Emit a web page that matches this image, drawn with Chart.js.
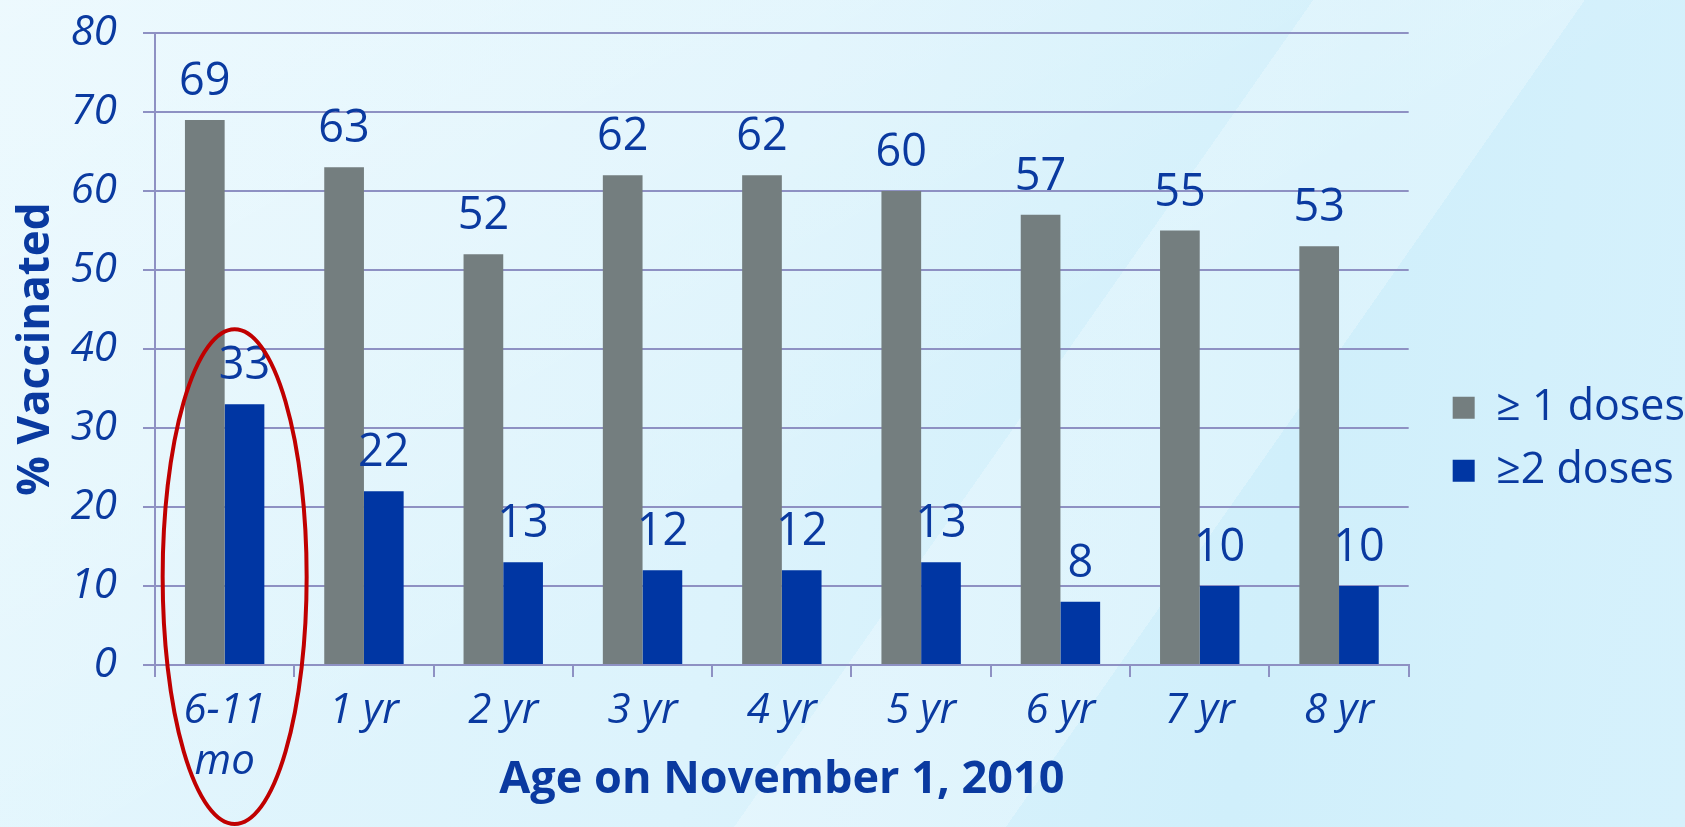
<!DOCTYPE html>
<html>
<head>
<meta charset="utf-8">
<script src="https://cdn.jsdelivr.net/npm/chart.js@4/dist/chart.umd.min.js"></script>
<style>
  html, body { margin: 0; padding: 0; }
  body {
    width: 1685px; height: 827px; overflow: hidden;
    background:
      linear-gradient(125deg, rgba(255,255,255,0) 0%, rgba(255,255,255,0) 58%, rgba(255,255,255,0.25) 58%, rgba(255,255,255,0.25) 70%, rgba(255,255,255,0) 70%),
      linear-gradient(150deg, rgba(255,255,255,0.35) 0%, rgba(255,255,255,0.2) 30%, rgba(255,255,255,0) 55%),
      linear-gradient(100deg, #e3f6fd 0%, #dcf3fc 45%, #d0effb 75%, #d6f1fc 100%);
  }
  #wrap { position: absolute; left: 0; top: 0; width: 1685px; height: 827px; }
</style>
</head>
<body>
<div id="wrap"><canvas id="vacc" width="1685" height="827"></canvas></div>
<script>
  // values
  var ageGroups = [["6-11", "mo"], "1 yr", "2 yr", "3 yr", "4 yr", "5 yr", "6 yr", "7 yr", "8 yr"];
  var oneDose = [69, 63, 52, 62, 62, 60, 57, 55, 53];
  var twoDoses = [33, 22, 13, 12, 12, 13, 8, 10, 10];
  var yTicks = [0, 10, 20, 30, 40, 50, 60, 70, 80];

  var textBlue = "#0a3aa0";
  var gridCol = "#8e91c3";
  var fontName = "'Open Sans', 'Noto Sans', sans-serif";

  // numbers above the bars
  var barLabels = {
    id: "barLabels",
    afterDatasetsDraw: function (chart) {
      var ctx = chart.ctx;
      ctx.save();
      ctx.fillStyle = textBlue;
      ctx.font = "45px " + fontName;
      ctx.textAlign = "center";
      ctx.textBaseline = "alphabetic";
      chart.data.datasets.forEach(function (ds, i) {
        chart.getDatasetMeta(i).data.forEach(function (bar, j) {
          ctx.fillText(ds.data[j], bar.x, bar.y - 25);
        });
      });
      ctx.restore();
    }
  };

  // red ring around the first age group
  var ring = {
    id: "ring",
    afterDraw: function (chart) {
      var x = chart.scales.x, y = chart.scales.y;
      var cx = x.getPixelForValue(0) + 10;
      var top = y.getPixelForValue(42.5);
      var bottom = chart.height - 3;
      var ctx = chart.ctx;
      ctx.save();
      ctx.strokeStyle = "#c00000";
      ctx.lineWidth = 4;
      ctx.beginPath();
      ctx.ellipse(cx, (top + bottom) / 2, 72, (bottom - top) / 2, 0, 0, Math.PI * 2);
      ctx.stroke();
      ctx.restore();
    }
  };

  // leave a wider gap between the plot and the legend
  var legendGap = {
    id: "legendGap",
    afterLayout: function (chart) {
      if (chart.legend) {
        chart.legend.left += 24;
        chart.legend.right += 24;
      }
    }
  };

  var ctx = document.getElementById("vacc").getContext("2d");
  var myChart = new Chart(ctx, {
    type: "bar",
    data: {
      labels: ageGroups,
      datasets: [{
        label: "\u2265 1 doses",
        data: oneDose,
        backgroundColor: "#747e7f",
        categoryPercentage: 0.57,
        barPercentage: 1.0
      }, {
        label: "\u22652 doses",
        data: twoDoses,
        backgroundColor: "#0036a3",
        categoryPercentage: 0.57,
        barPercentage: 1.0
      }]
    },
    options: {
      responsive: false,
      animation: false,
      devicePixelRatio: 1,
      layout: { padding: { top: 33, left: 0, right: 14, bottom: 0 } },
      plugins: {
        tooltip: { enabled: false },
        legend: {
          position: "right",
          align: "center",
          title: { display: true, text: "", font: { size: 12 }, padding: { top: 0, bottom: 4 } },
          labels: {
            color: textBlue,
            font: { family: fontName, size: 43 },
            boxWidth: 22,
            boxHeight: 22,
            padding: 20
          }
        }
      },
      scales: {
        x: {
          grid: { offset: true, drawOnChartArea: false, color: gridCol, lineWidth: 2, tickLength: 12 },
          border: { color: gridCol, width: 2 },
          ticks: {
            color: textBlue,
            maxRotation: 0,
            padding: 8,
            font: { family: fontName, size: 42, style: "italic", lineHeight: 1.22 }
          },
          title: {
            display: true,
            text: "Age on November 1, 2010",
            color: textBlue,
            font: { family: fontName, size: 45, weight: "bold" },
            padding: { top: 0, bottom: 20 }
          },
          afterFit: function (scale) { scale.height = 162; }
        },
        y: {
          min: 0,
          max: 80,
          afterBuildTicks: function (scale) {
            scale.ticks = yTicks.map(function (v) { return { value: v }; });
          },
          grid: { color: gridCol, lineWidth: 2, tickLength: 12 },
          border: { color: gridCol, width: 2 },
          ticks: {
            color: textBlue,
            padding: 26,
            font: { family: fontName, size: 42, style: "italic" }
          },
          title: {
            display: true,
            text: "% Vaccinated",
            color: textBlue,
            font: { family: fontName, size: 44, weight: "bold" },
            padding: { top: 10, bottom: 0 }
          },
          afterFit: function (scale) {
            scale.width = 155;
            scale.paddingTop = 0;
            scale.paddingBottom = 0;
          }
        }
      }
    },
    plugins: [barLabels, ring, legendGap]
  });
</script>
</body>
</html>
